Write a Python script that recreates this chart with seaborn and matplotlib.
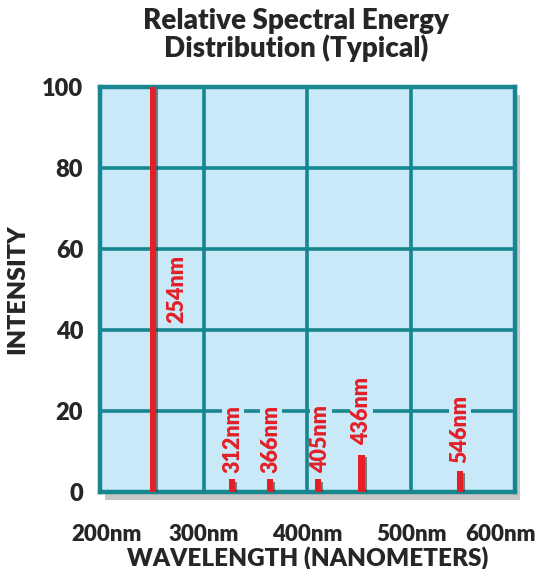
import numpy as np
import pandas as pd
import seaborn as sns
import matplotlib.pyplot as plt
import matplotlib.transforms as mtransforms
import matplotlib.patheffects as pe
from matplotlib.patches import Rectangle

# spectral lines: label, where the line sits on the drawn axis, intensity
line_labels = ['254nm', '312nm', '366nm', '405nm', '436nm', '546nm']
line_pos = [251, 327, 364, 410, 452, 547]
line_intensity = [100, 3, 3, 3, 9, 5]
# where each rotated label is centred (intensity units)
label_y = [50, 13, 13, 13, 20, 15.5]
label_dx = [23, 1, 1, 3, 0, 0]

x_ticks = [200, 300, 400, 500, 600]
x_tick_labels = ['200nm', '300nm', '400nm', '500nm', '600nm']
y_ticks = [0, 20, 40, 60, 80, 100]

bg = '#c9e9f9'
teal = '#17868f'
red = '#e41f26'


def main():
    sns.set_style('white')
    plt.rcParams['font.family'] = ['Lato', 'DejaVu Sans']

    fig = plt.figure(figsize=(5.37, 5.69), dpi=100)
    ax = fig.add_axes([0.186, 0.136, 0.773, 0.711])

    # drop shadow behind the plot box
    shadow = Rectangle((0.196, 0.122), 0.773, 0.711, transform=fig.transFigure,
                       facecolor='#9a9a9a', edgecolor='none', alpha=0.55, zorder=-1)
    fig.patches.append(shadow)

    ax.set_facecolor(bg)
    df = pd.DataFrame({'pos': line_pos, 'intensity': line_intensity})
    min_gap = np.min(np.diff(sorted(line_pos)))
    sns.barplot(data=df, x='pos', y='intensity', native_scale=True,
                width=6.0 / min_gap, color=red, saturation=1, ax=ax, zorder=3,
                linewidth=0)
    for bar in ax.patches:
        bar.set_path_effects([pe.SimplePatchShadow(offset=(1.5, -1.5), shadow_rgbFace='#333333', alpha=0.6),
                              pe.Normal()])

    for lab, xp, yp, dx in zip(line_labels, line_pos, label_y, label_dx):
        ax.text(xp + dx, yp, lab, rotation=90, ha='center', va='center',
                color=red, fontsize=15.5, fontweight='heavy', zorder=4,
                bbox=dict(facecolor=bg, edgecolor='none', pad=0.5))

    ax.set_xlim(200, 600)
    ax.set_ylim(0, 100)
    ax.set_xticks(x_ticks)
    ax.set_xticklabels(x_tick_labels, fontsize=16, fontweight='heavy')
    ax.set_yticks(y_ticks)
    ax.set_yticklabels([str(v) for v in y_ticks], fontsize=17, fontweight='heavy')
    ax.tick_params(length=0, pad=12)
    ax.tick_params(axis='x', pad=23)

    labels = ax.get_xticklabels()
    labels[0].set_transform(labels[0].get_transform() + mtransforms.ScaledTranslation(0.07, 0, fig.dpi_scale_trans))
    labels[-1].set_transform(labels[-1].get_transform() + mtransforms.ScaledTranslation(-0.14, 0, fig.dpi_scale_trans))

    ax.grid(True, color=teal, linewidth=2.6, zorder=1)
    ax.set_axisbelow(True)
    for s in ax.spines.values():
        s.set_visible(True)
        s.set_color(teal)
        s.set_linewidth(3.2)

    ax.set_xlabel('WAVELENGTH (NANOMETERS)', fontsize=17.5, fontweight='heavy', labelpad=1)
    ax.set_ylabel('INTENSITY', fontsize=18, fontweight='heavy', labelpad=10)
    fig.text(0.552, 0.938, 'Relative Spectral Energy\nDistribution (Typical)', ha='center', va='center',
             fontsize=20, fontweight='heavy', linespacing=1.0)

    plt.savefig('out.png', dpi=100)


if __name__ == '__main__':
    main()
